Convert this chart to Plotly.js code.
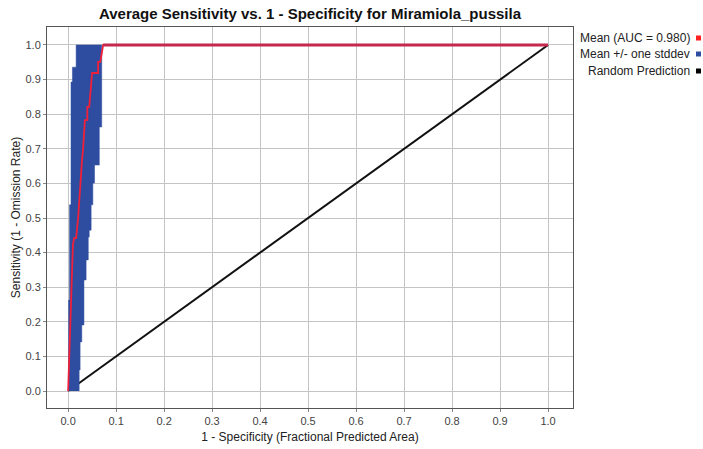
<!DOCTYPE html>
<html>
<head>
<meta charset="utf-8">
<script src="https://cdn.plot.ly/plotly-3.0.1.min.js"></script>
<style>html,body{margin:0;padding:0;background:#fff;}#chart{width:703px;height:449px;}</style>
</head>
<body>
<div id="chart"></div>
<script>
// Mean ROC curve (1 - specificity, sensitivity)
const meanFpr  = [0, 0.004, 0.008, 0.010, 0.0125, 0.0167, 0.021, 0.025, 0.029, 0.031, 0.035, 0.040, 0.040, 0.044, 0.048, 0.050, 0.0625, 0.0625, 0.067, 0.073, 1];
const meanSens = [0, 0.176, 0.350, 0.422, 0.442, 0.442, 0.503, 0.601, 0.668, 0.697, 0.783, 0.783, 0.821, 0.821, 0.899, 0.919, 0.919, 0.951, 0.951, 1.0, 1.0];

// Mean +/- one stddev band: right (lower) boundary, bottom to top
const bandRightFpr  = [0.023, 0.023, 0.025, 0.025, 0.0285, 0.0285, 0.033, 0.033, 0.0375, 0.0375, 0.042, 0.042, 0.044, 0.044, 0.048, 0.048, 0.0515, 0.0515, 0.055, 0.055, 0.065, 0.065, 0.070, 0.070];
const bandRightSens = [0, 0.061, 0.061, 0.142, 0.142, 0.191, 0.191, 0.321, 0.321, 0.379, 0.379, 0.445, 0.445, 0.465, 0.465, 0.538, 0.538, 0.601, 0.601, 0.653, 0.653, 0.763, 0.763, 1.0];
// left (upper) boundary, top to bottom
const bandLeftFpr  = [0.0167, 0.0167, 0.009, 0.009, 0.006, 0.006, 0.003, 0.003, 0.001, 0.001];
const bandLeftSens = [1.0, 0.936, 0.936, 0.893, 0.893, 0.538, 0.538, 0.263, 0.263, 0];

// Random prediction
const randFpr  = [0, 1];
const randSens = [0, 1];

// Mean and band overlap along sensitivity = 1
const topFpr  = [0.073, 1];
const topSens = [1, 1];

const ticks = [0, 0.1, 0.2, 0.3, 0.4, 0.5, 0.6, 0.7, 0.8, 0.9, 1.0];

const legendLabels = ["Mean (AUC = 0.980)", "Mean +/- one stddev", "Random Prediction"];
const legendColors = ["#ff2020", "#2e4da0", "#000000"];

const blue = "#2e4da0";

const traces = [
  {x: randFpr, y: randSens, mode: "lines", line: {color: "#111", width: 2}, showlegend: false, hoverinfo: "skip"},
  {x: bandRightFpr.concat(bandLeftFpr), y: bandRightSens.concat(bandLeftSens), mode: "lines", fill: "toself",
   fillcolor: blue, line: {color: blue, width: 0.5}, showlegend: false, hoverinfo: "skip"},
  {x: meanFpr, y: meanSens, mode: "lines", line: {color: "#f0203a", width: 1.8}, showlegend: false, hoverinfo: "skip"},
  {x: topFpr, y: topSens, mode: "lines", line: {color: "#c4284c", width: 2.8}, showlegend: false, hoverinfo: "skip"}
];

const font = "Liberation Sans, Arial, sans-serif";

const annotations = [];
const shapes = [];
const rowY = [38, 54, 71];
legendLabels.forEach((t, i) => {
  annotations.push({xref: "paper", yref: "paper", x: (692 - 47) / 526, y: (408 - rowY[i]) / 381,
    text: t, showarrow: false, xanchor: "right", yanchor: "middle", font: {family: font, size: 12, color: "#222"}});
  const x0 = (696 - 47) / 526, x1 = (701 - 47) / 526;
  const yc = (408 - rowY[i]) / 381;
  shapes.push({type: "rect", xref: "paper", yref: "paper", x0: x0, x1: x1, y0: yc - 2.5 / 381, y1: yc + 2.5 / 381,
    fillcolor: legendColors[i], line: {width: 0}});
});

const layout = {
  width: 703, height: 449,
  margin: {l: 47, r: 130, t: 27, b: 41},
  paper_bgcolor: "#fff", plot_bgcolor: "#fff",
  font: {family: font, size: 12, color: "#333"},
  title: {text: "<b>Average Sensitivity vs. 1 - Specificity for Miramiola_pussila</b>", x: 310 / 703, xanchor: "center",
          y: 1 - 14 / 449, yanchor: "middle", font: {family: font, size: 15, color: "#111"}},
  xaxis: {range: [-0.044, 1.052], tickvals: ticks, tickformat: ".1f", showgrid: true, gridcolor: "#c4c4c4", gridwidth: 1,
          zeroline: false, showline: true, mirror: true, linecolor: "#555", linewidth: 1,
          ticks: "outside", ticklen: 3, tickcolor: "#888", tickfont: {size: 11, color: "#444"},
          title: {text: "1 - Specificity (Fractional Predicted Area)", font: {size: 12, color: "#222"}, standoff: 6}},
  yaxis: {range: [-0.049, 1.052], tickvals: ticks, tickformat: ".1f", showgrid: true, gridcolor: "#c4c4c4", gridwidth: 1,
          zeroline: false, showline: true, mirror: true, linecolor: "#555", linewidth: 1,
          ticks: "outside", ticklen: 3, tickcolor: "#888", tickfont: {size: 11, color: "#444"},
          title: {text: "Sensitivity (1 - Omission Rate)", font: {size: 12, color: "#222"}, standoff: 2}},
  annotations: annotations,
  shapes: shapes,
  showlegend: false
};

Plotly.newPlot("chart", traces, layout, {displayModeBar: false, staticPlot: true});
</script>
</body>
</html>
